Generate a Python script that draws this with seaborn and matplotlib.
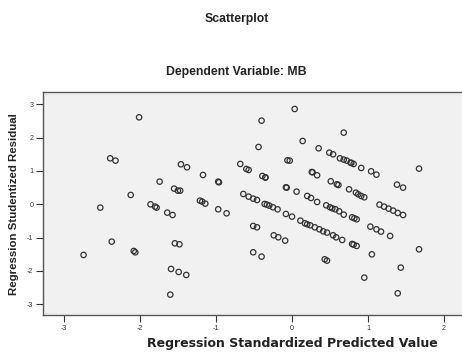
import matplotlib
matplotlib.use("Agg")
import matplotlib.pyplot as plt
import seaborn as sns
import pandas as pd

# Regression standardized predicted value (x) and studentized residual (y)
pred_x = [
    -2.01, -2.39, -2.32, -2.12, -2.52, -2.74, -2.37, -2.08, -2.06, -1.74,
    -1.86, -1.80, -1.78, -1.64, -1.57, -1.55, -1.50, -1.47, -1.46, -1.38,
    -1.17, -0.97, -0.96, -1.21, -1.18, -1.14, -0.97, -0.86, -1.54, -1.48,
    -1.59, -1.49, -1.39, -1.60,
    0.035, -0.40, 0.68, 0.14, -0.44, 0.35, 0.49, 0.54,
    0.63, 0.68, 0.72, 0.77, 0.78, 0.81, 0.91, 1.04, 1.11, 1.67, 1.38, 1.46,
    -0.06, -0.03, -0.68, -0.60, -0.57, -0.39, -0.35, -0.35, 0.26, 0.27, 0.33,
    0.51, 0.59, 0.61, 0.75, 0.84, 0.87, 0.91, 0.95,
    -0.08, -0.07, 0.06, 0.20, 0.25, 0.33,
    0.45, 0.50, 0.53, 0.57, 0.62, 0.68, 0.79, 0.82, 0.85,
    1.15, 1.21, 1.27, 1.33, 1.39, 1.46, 1.03, 1.11, 1.17, 1.29,
    -0.64, -0.57, -0.51, -0.46, -0.36, -0.33, -0.30, -0.25, -0.19,
    -0.08, 0.00, 0.11, 0.17, 0.20, 0.24, 0.30, 0.36, 0.41, 0.46, 0.54, 0.58,
    0.66, 0.79, 0.81, 0.85, -0.51, -0.46, -0.24, -0.18, -0.09,
    -0.51, -0.40, 0.43, 0.46, 1.05, 1.67, 1.43, 0.95, 1.39,
]
resid_y = [
    2.61, 1.38, 1.31, 0.28, -0.10, -1.52, -1.12, -1.40, -1.44, 0.68,
    0.00, -0.07, -0.10, -0.25, -0.32, 0.47, 0.41, 0.41, 1.20, 1.11,
    0.88, 0.68, 0.66, 0.11, 0.08, 0.02, -0.15, -0.27, -1.17, -1.20,
    -1.94, -2.03, -2.12, -2.71,
    2.86, 2.51, 2.15, 1.90, 1.72, 1.68, 1.55, 1.50,
    1.38, 1.34, 1.31, 1.25, 1.24, 1.21, 1.09, 0.99, 0.89, 1.07, 0.59, 0.50,
    1.32, 1.31, 1.21, 1.06, 1.03, 0.85, 0.81, 0.80, 0.97, 0.96, 0.87,
    0.69, 0.60, 0.58, 0.45, 0.35, 0.30, 0.25, 0.21,
    0.51, 0.50, 0.38, 0.25, 0.19, 0.07,
    -0.03, -0.09, -0.12, -0.15, -0.21, -0.31, -0.39, -0.42, -0.45,
    -0.01, -0.07, -0.13, -0.19, -0.26, -0.32, -0.67, -0.75, -0.82, -0.95,
    0.31, 0.23, 0.17, 0.13, 0.01, -0.01, -0.04, -0.09, -0.15,
    -0.29, -0.37, -0.49, -0.57, -0.60, -0.63, -0.69, -0.75, -0.81, -0.85, -0.93, -0.99,
    -1.07, -1.19, -1.21, -1.25, -0.65, -0.69, -0.93, -0.99, -1.09,
    -1.44, -1.57, -1.65, -1.69, -1.50, -1.35, -1.90, -2.20, -2.67,
]
x_ticks = [-3, -2, -1, 0, 1, 2]
y_ticks = [-3, -2, -1, 0, 1, 2, 3]

df = pd.DataFrame({"pred": pred_x, "resid": resid_y})

sns.set_theme(style="white")
plt.rcParams["axes.unicode_minus"] = False
plt.rcParams["font.family"] = ["Liberation Sans", "DejaVu Sans"]

fig = plt.figure(figsize=(4.62, 3.52), dpi=100)
fig.patch.set_facecolor("white")
ax = fig.add_axes([43 / 462, 1 - 315 / 352, 1 - 43 / 462, (315 - 92) / 352])
ax.set_facecolor("#f1f1f1")

sns.scatterplot(data=df, x="pred", y="resid", ax=ax, marker="o", s=15,
                facecolor="none", edgecolor="#333333", linewidth=0.9)

ax.set_xlim((43 - 292) / 76.07, (462 - 292) / 76.07)
ax.set_ylim((204.3 - 315) / 33.33, (204.3 - 92) / 33.33)
ax.set_xticks(x_ticks)
ax.set_yticks(y_ticks)
ax.set_xticklabels([str(t) for t in x_ticks])
ax.set_yticklabels([str(t) for t in y_ticks])
ax.tick_params(axis="both", labelsize=5.2, colors="#333333", length=4.8,
               width=0.8, pad=2.2, direction="out")
ax.tick_params(axis="both", left=True, bottom=True)

for side in ["top", "left", "bottom"]:
    ax.spines[side].set_color("#555555")
    ax.spines[side].set_linewidth(1.0)
ax.spines["right"].set_visible(False)

ax.set_xlabel("Regression Standardized Predicted Value", fontsize=9.0,
              fontweight="bold", family="DejaVu Sans", color="#222222")
ax.set_ylabel("Regression Studentized Residual", fontsize=8.2,
              fontweight="bold", color="#222222")
ax.xaxis.set_label_coords((292.5 - 43) / 419, (315 - 343.3) / 223)
ax.xaxis.label.set_va("center")
ax.yaxis.set_label_coords((14 - 43) / 419, (315 - 204.5) / 223)
ax.yaxis.label.set_va("center")

fig.text(236.5 / 462, 1 - 19 / 352, "Scatterplot", ha="center", va="center",
         fontsize=8.8, fontweight="bold", color="#222222")
fig.text(236.5 / 462, 1 - 72 / 352, "Dependent Variable: MB", ha="center",
         va="center", fontsize=8.8, fontweight="bold", color="#222222")

fig.savefig("out.png", dpi=100)
